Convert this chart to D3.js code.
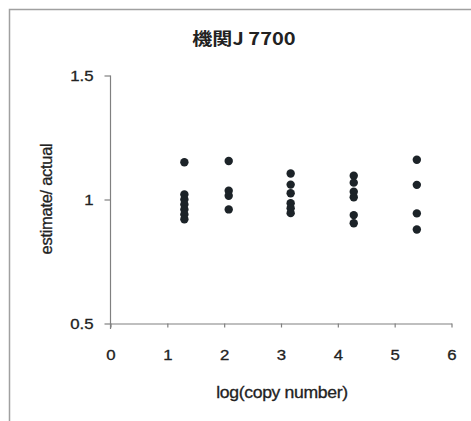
<!DOCTYPE html>
<html><head><meta charset="utf-8">
<script src="https://cdn.jsdelivr.net/npm/d3@7"></script>
<style>body{margin:0;background:#fff}svg{display:block}</style>
</head><body><svg id="c" width="471" height="421"></svg>
<script>
const title = "機関J 7700";
const xLabel = "log(copy number)";
const yLabel = "estimate/ actual";
const xTicks = [0,1,2,3,4,5,6];
const yTicks = [0.5,1,1.5];
const groupX = [1.30, 2.08, 3.17, 4.28, 5.39];
const groupY = [
  [1.15, 1.02, 1.0, 0.98, 0.96, 0.94, 0.92],
  [1.155, 1.035, 1.015, 0.96],
  [1.105, 1.06, 1.025, 0.985, 0.965, 0.945],
  [1.096, 1.068, 1.031, 1.009, 0.937, 0.904],
  [1.16, 1.059, 0.944, 0.879]
];
const pts = [];
groupX.forEach((gx,i)=>groupY[i].forEach(v=>pts.push({x:gx,y:v})));

const svg = d3.select("#c");
svg.append("rect").attr("x",9.5).attr("y",9.5).attr("width",480).attr("height",440)
  .attr("fill","#fff").attr("stroke","#a0a0a0").attr("stroke-width",1.5);

const x = d3.scaleLinear().domain([0,6]).range([110.5,451.5]);
const y = d3.scaleLinear().domain([0.5,1.5]).range([323.5,75.5]);
const font = "'Liberation Sans', Arial, sans-serif";
const ink = "#222";

const xa = svg.append("g").attr("transform","translate(0,323.5)")
  .call(d3.axisBottom(x).tickValues(xTicks).tickFormat(d3.format("d")).tickSizeInner(4).tickSizeOuter(0).tickPadding(22));
const ya = svg.append("g").attr("transform","translate(110.5,0)")
  .call(d3.axisLeft(y).tickValues(yTicks).tickFormat(d=>String(d)).tickSizeInner(6).tickSizeOuter(0).tickPadding(0));
[xa,ya].forEach(a=>{
  a.selectAll("path,line").attr("stroke","#808080").attr("stroke-width",1.2);
  a.selectAll("text").attr("font-family",font).attr("font-size",15).attr("fill",ink)
    .attr("stroke",ink).attr("stroke-width",0.3);
});
xa.selectAll("text").attr("transform","scale(1.12,1)");
ya.selectAll("text").attr("x",0).attr("transform","translate(-17,0) scale(1.12,1)");
ya.select("path").attr("d","M0,75.5V329");

svg.append("g").selectAll("circle").data(pts).join("circle")
  .attr("cx",d=>x(d.x)).attr("cy",d=>y(d.y)).attr("r",4.2).attr("fill","#1c2328");

svg.append("text").attr("transform","translate(244,45) scale(1.18,1)").attr("text-anchor","middle")
  .attr("font-family","'Noto Sans CJK JP', "+font).attr("font-weight","bold").attr("font-size",17)
  .attr("fill",ink).text(title);
svg.append("text").attr("transform","translate(282,398) scale(1.1,1)").attr("text-anchor","middle")
  .attr("font-family",font).attr("font-size",16).attr("fill",ink).attr("stroke",ink).attr("stroke-width",0.3)
  .attr("letter-spacing","-0.3").text(xLabel);
svg.append("text").attr("transform","translate(52,199) rotate(-90)").attr("text-anchor","middle")
  .attr("font-family",font).attr("font-size",16.5).attr("fill",ink).attr("stroke",ink).attr("stroke-width",0.3)
  .attr("letter-spacing","-0.3").text(yLabel);
</script></body></html>
